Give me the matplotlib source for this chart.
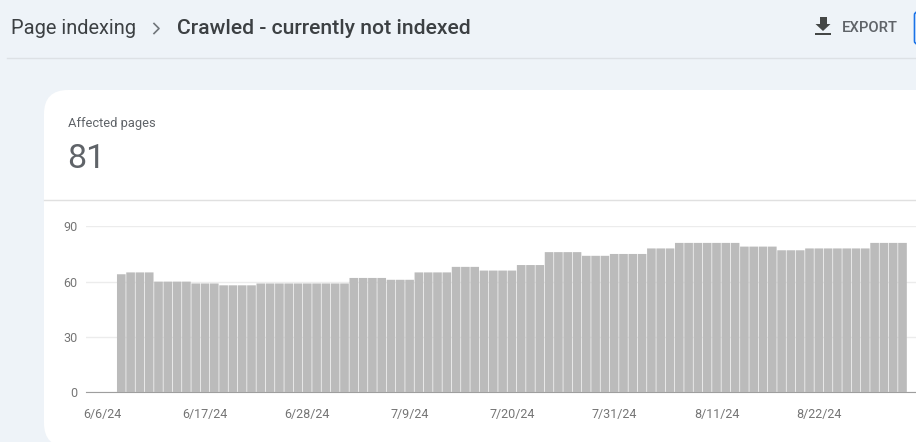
import datetime as dt

import matplotlib.dates as mdates
import matplotlib.pyplot as plt
from matplotlib.patches import FancyBboxPatch, Polygon, Rectangle

# daily counts, one entry per bar
affected_pages = (
    [64] + [65] * 3 + [60] * 4 + [59] * 3 + [58] * 4 + [59] * 10
    + [62] * 4 + [61] * 3 + [65] * 4 + [68] * 3 + [66] * 4 + [69] * 3
    + [76] * 4 + [74] * 3 + [75] * 4 + [78] * 3 + [81] * 7 + [79] * 4
    + [77] * 3 + [78] * 7 + [81] * 4
)
first_bar = dt.date(2024, 6, 8)
bar_dates = [first_bar + dt.timedelta(days=i) for i in range(len(affected_pages))]

tick_dates = [dt.date(2024, 6, 6), dt.date(2024, 6, 17), dt.date(2024, 6, 28),
              dt.date(2024, 7, 9), dt.date(2024, 7, 20), dt.date(2024, 7, 31),
              dt.date(2024, 8, 11), dt.date(2024, 8, 22)]
tick_labels = ["6/6/24", "6/17/24", "6/28/24", "7/9/24", "7/20/24", "7/31/24",
               "8/11/24", "8/22/24"]
y_ticks = [0, 30, 60, 90]

W, H = 916, 442
BG = "#eef3f8"
plt.rcParams["font.family"] = ["Roboto", "DejaVu Sans"]

fig = plt.figure(figsize=(W / 100, H / 100), dpi=100, facecolor=BG)

# full-figure overlay in pixel coordinates for the page furniture
page = fig.add_axes([0, 0, 1, 1])
page.set_xlim(0, W)
page.set_ylim(H, 0)
page.axis("off")

page.add_patch(FancyBboxPatch((44, 90), 1000, 357, boxstyle="round,pad=0,rounding_size=24",
                              fc="white", ec="none"))
page.plot([7, W], [58, 58], color="#dde1e5", lw=1)
page.plot([44, W], [200, 200], color="#e0e0e0", lw=1)

page.text(11, 28, "Page indexing", fontsize=14.4, color="#3c4043", va="center")
page.text(177, 28, "Crawled - currently not indexed", fontsize=15.2, color="#3c4043",
          va="center", fontweight="medium")
page.plot([154, 159, 154], [23.5, 28.5, 33.5], color="#70757a", lw=1.2)

# export icon
page.add_patch(Rectangle((819.5, 17), 7, 7, fc="#444746", ec="none"))
page.add_patch(Polygon([[815.5, 24], [830.5, 24], [823, 31]], fc="#444746", ec="none"))
page.add_patch(Rectangle((815, 33), 16, 1.8, fc="#444746", ec="none"))
page.text(842, 27.5, "EXPORT", fontsize=10.6, color="#5f6368", va="center", fontweight="medium")
page.add_patch(FancyBboxPatch((914.5, 12), 10, 32, boxstyle="round,pad=0,rounding_size=3",
                              fc="white", ec="#1a73e8", lw=1.2))

page.text(68, 123, "Affected pages", fontsize=9.3, color="#5f6368", va="center")
page.text(67.5, 159, "81", fontsize=24.5, color="#5f6368", va="center")

# chart axes: y 0 at 392.3px, 90 at 226.3px
left_px = 86
ax = fig.add_axes([left_px / W, 1 - 392.3 / H, (W - left_px) / W, 166 / H])
ax.patch.set_alpha(0)
ax.bar(bar_dates, affected_pages, width=0.93, color="#bbbbbb", zorder=3, snap=False, lw=0)
day0 = mdates.date2num(first_bar)
ax.set_xlim(day0 - (121.3 - left_px) / 9.3, day0 + (W - 121.3) / 9.3)
ax.set_ylim(0, 90)

ax.set_yticks(y_ticks)
ax.set_xticks(tick_dates)
ax.set_xticklabels(tick_labels)
ax.tick_params(axis="both", length=0, labelsize=9, labelcolor="#757575")
ax.tick_params(axis="y", pad=6)
ax.tick_params(axis="x", pad=11)
ax.grid(axis="y", color="#ececec", lw=1, zorder=0)
ax.grid(axis="x", visible=False)
for name in ["top", "right", "left"]:
    ax.spines[name].set_visible(False)
ax.spines["bottom"].set_color("#9e9e9e")

fig.savefig("out.png", dpi=100, facecolor=BG)
